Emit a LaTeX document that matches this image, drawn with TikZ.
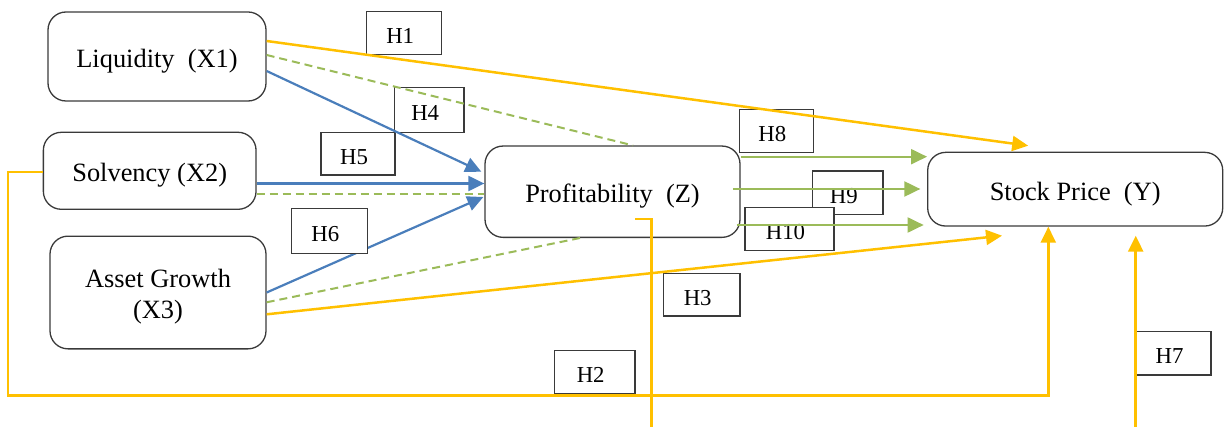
\documentclass[tikz,border=0pt]{standalone}
\usepackage{fontspec}
\setmainfont{Liberation Serif}
\usetikzlibrary{arrows.meta,calc}

\definecolor{hgold}{HTML}{FFC000}
\definecolor{hblue}{HTML}{4A7EBB}
\definecolor{hgreen}{HTML}{9BBB59}
\definecolor{frame}{HTML}{3A3A3A}

\tikzset{
  varbox/.style={draw=frame, line width=0.65pt, rounded corners=9pt, inner sep=0pt,
    font=\fontsize{13.2pt}{15.5pt}\selectfont},
  onerow/.style={text height=10.9pt, text depth=0pt},
  hyp/.style={draw=frame, line width=0.6pt, inner sep=0pt,
    label={[xshift=-2pt,yshift=-1.5pt,font=\fontsize{11.4pt}{13pt}\selectfont]center:#1}},
  tip/.style={-{Triangle[length=8pt,width=7.5pt]}},
  goldpath/.style={draw=hgold, line width=1.25pt},
  bluepath/.style={draw=hblue, line width=1.1pt, tip},
  greenpath/.style={draw=hgreen, line width=1pt, tip},
  mediated/.style={draw=hgreen, line width=1pt, dash pattern=on 4pt off 2.5pt},
}

\begin{document}
\begin{tikzpicture}[x=0.5pt,y=-0.5pt]
\useasboundingbox (0,0) rectangle (1224,427);

% variables
\node[varbox, onerow, minimum width=109pt, minimum height=44.5pt] (liq) at (157,56.5) {Liquidity\ \ (X1)};
\node[varbox, onerow, minimum width=106.35pt, minimum height=38.5pt] (solv) at (149.7,170.8) {Solvency (X2)};
\node[varbox, align=center, text height=31pt, text depth=5pt, minimum width=108pt, minimum height=56.35pt] (ag) at (158,292.5) {Asset Growth\\(X3)};
\node[varbox, onerow, minimum width=127.5pt, minimum height=45.65pt] (prof) at (612.5,191.7) {Profitability\ \ (Z)};
\node[varbox, onerow, minimum width=147.5pt, minimum height=36.85pt] (sp) at (1075.2,189.2) {Stock Price\ \ (Y)};

% hypothesis tags
\node[hyp=H1, minimum width=37.5pt, minimum height=21.3pt] (h1) at (404.2,33) {};
\node[hyp=H4, minimum width=34.85pt, minimum height=22.5pt] (h4) at (429.2,109.8) {};
\node[hyp=H5, minimum width=37pt, minimum height=21.35pt] (h5) at (358,153.7) {};
\node[hyp=H2, minimum width=40.35pt, minimum height=21.5pt] (h2) at (594.7,371.8) {};
\node[hyp=H3, minimum width=38.35pt, minimum height=21.35pt] (h3) at (701.7,294.7) {};
\node[hyp=H8, minimum width=37pt, minimum height=21.5pt] (h8) at (776.3,130.8) {};
\node[hyp=H9, minimum width=35.15pt, minimum height=21.65pt] (h9) at (847.9,192.7) {};
\node[hyp=H10, fill=white, minimum width=44.5pt, minimum height=21.5pt] (h10) at (789.5,228.8) {};
\node[hyp=H7, minimum width=37.5pt, minimum height=21.85pt] (h7) at (1173.5,353.2) {};

% connector ends on the node borders
\path ([yshift=7.75pt]liq.east)   coordinate (liqA)
      ([yshift=0.75pt]liq.east)   coordinate (liqB)
      ([yshift=-7.25pt]liq.east)  coordinate (liqC)
      ([yshift=-6.35pt]solv.east) coordinate (solvA)
      ([yshift=-11.85pt]solv.east) coordinate (solvB)
      ([yshift=-0.6pt]solv.west)  coordinate (solvW)
      (ag.east)                   coordinate (agA)
      ([yshift=-4.9pt]ag.east)    coordinate (agB)
      ([yshift=-10.9pt]ag.east)   coordinate (agC)
      ([xshift=10.25pt]prof.north) coordinate (profTop)
      ([xshift=-16.25pt]prof.south) coordinate (profBot)
      ([xshift=-1.5pt,yshift=10pt]prof.west) coordinate (profL1)
      ([xshift=-0.5pt,yshift=-2.65pt]prof.west) coordinate (profL3)
      ([xshift=11.25pt,yshift=-13.65pt]prof.center) coordinate (profIn)
      ([yshift=17.5pt]prof.east)  coordinate (profR1)
      ([xshift=-3.85pt,yshift=1.35pt]prof.east) coordinate (profR2)
      ([xshift=-2pt,yshift=-16.65pt]prof.east) coordinate (profR3)
      ([xshift=-3.35pt]sp.west)   coordinate (spW2)
      ([xshift=-1.7pt]sp.west)    coordinate (spW3)
      ([xshift=-23.5pt,yshift=3pt]sp.north) coordinate (spTop)
      ([xshift=-13.45pt]sp.south) coordinate (spBotA)
      ([xshift=-36.6pt,yshift=-4.5pt]sp.south) coordinate (spBotB)
      ([xshift=30.25pt,yshift=-4.5pt]sp.south) coordinate (spBotC);

% free ends of the open connectors
\coordinate (h2low) at (8,395.5);
\coordinate (zfoot) at (651.7,427);
\coordinate (h7foot) at (1135.7,427);

% direct effects on stock price
\draw[goldpath, tip] (liqA) -- (spTop);
\draw[goldpath, tip] (solvW) -| (h2low) -| (spBotA);
\draw[goldpath, tip] (agC) -- (spBotB);
\draw[goldpath] (profIn) -| (zfoot);
\draw[goldpath, tip] (h7foot) -- (spBotC);

% mediated paths
\draw[mediated] (liqB) -- (profTop);
\draw[mediated] (solvB) -- (solvB -| prof.west);
\draw[mediated] (agB) -- (profBot);

% effects on profitability
\draw[bluepath] (liqC) -- (profL1);
\draw[bluepath] (solvA) -- (solvA -| prof.west);
\draw[bluepath] (agA) -- (profL3);

% profitability to stock price
\draw[greenpath] (profR1) -- (profR1 -| sp.west);
\draw[greenpath] (profR2) -- (profR2 -| spW2);
\draw[greenpath] (profR3) -- (profR3 -| spW3);

% tag laid over the Asset Growth arrow
\node[hyp=H6, fill=white, minimum width=38pt, minimum height=22.7pt] (h6) at (329.3,231) {};
\end{tikzpicture}
\end{document}
